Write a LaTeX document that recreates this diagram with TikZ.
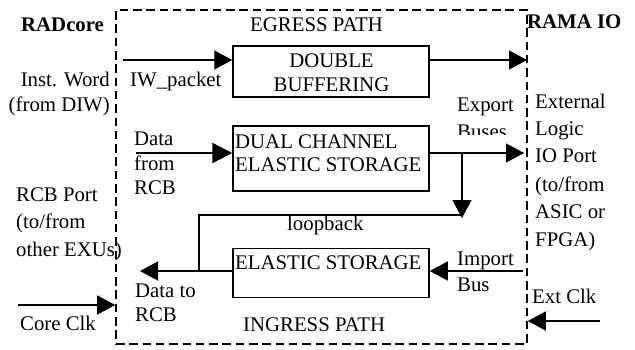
\documentclass[tikz,border=0pt]{standalone}
\usepackage{fontspec}
\setmainfont{Liberation Serif}
\usetikzlibrary{arrows.meta}
\begin{document}
\begin{tikzpicture}[x=1pt,y=-1pt,
  font=\fontsize{20.8}{25}\selectfont,
  txt/.style={inner sep=0pt, anchor=base west},
  txtr/.style={inner sep=0pt, anchor=base east},
  txtc/.style={inner sep=0pt, anchor=base},
  box/.style={draw, line width=1.5pt, inner sep=0pt},
  arr/.style={line width=1.4pt, -{Triangle[length=18pt,width=19pt]}},
  arrthick/.style={line width=2.4pt, -{Triangle[length=20pt,width=20pt]}},
  plain/.style={line width=1.4pt}]
\useasboundingbox (0,0) rectangle (635,349);
% outer dashed region
\node[draw, line width=1.6pt, dash pattern=on 8.5pt off 4.8pt, inner sep=0pt,
      minimum width=411pt, minimum height=334pt] (region) at (321.5,177) {};
% boxes
\node[box, minimum width=196pt, minimum height=51pt] (dbuf) at (331,71.5) {};
\node[box, minimum width=196pt, minimum height=65pt] (dual) at (331,158.5) {};
\node[box, minimum width=196pt, minimum height=49pt] (elastic) at (331,272.8) {};
% box texts
\node[txtc] (t-double) at (331.5,67.7) {DOUBLE};
\node[txtc] (t-buff) at (331.5,91) {BUFFERING};
\node[txt] (t-dual1) at (235,148) {DUAL CHANNEL};
\node[txt] (t-dual2) at (235,171.7) {ELASTIC STORAGE};
\node[txt] (t-elas) at (235,269.3) {ELASTIC STORAGE};
% titles
\node[txt] (t-radcore) at (21,31.7) {\bfseries RADcore};
\node[txt] (t-egress) at (250,31.7) {EGRESS PATH};
\node[txt] (t-rama) at (527,28.3) {\bfseries RAMA IO};
\node[txt] (t-ingress) at (243,331.7) {INGRESS PATH};
% left labels
\node[txtr] (t-inst1) at (110,86.7) {Inst. Word};
\node[txtr] (t-inst2) at (110,111) {(from DIW)};
\node[txt] (t-iw) at (130,86) {IW\_packet};
\node[txt] (t-data1) at (134,145) {Data};
\node[txt] (t-data2) at (134,170) {from};
\node[txt] (t-data3) at (134,194) {RCB};
\node[txt] (t-rcb1) at (16,201.7) {RCB Port};
\node[txt] (t-rcb2) at (16,228.3) {(to/from};
\node[txt] (t-rcb3) at (16,256) {other EXUs)};
\node[txt] (t-dto1) at (135,297.3) {Data to};
\node[txt] (t-dto2) at (135,321.7) {RCB};
\node[txt] (t-core) at (20,330) {Core Clk};
\node[txt] (t-loop) at (287,230) {loopback};
% right labels
\node[txt] (t-export) at (457,111.7) {Export};
\begin{scope}
  \clip (440,112) rectangle (530,134.5);
  \node[txt] (t-buses) at (457,138) {Buses};
\end{scope}
\node[txt] (t-ext1) at (535,108.3) {External};
\node[txt] (t-ext2) at (535,135) {Logic};
\node[txt] (t-ext3) at (535,162.3) {IO Port};
\node[txt] (t-ext4) at (535,191.7) {(to/from};
\node[txt] (t-ext5) at (535,218.3) {ASIC or};
\node[txt] (t-ext6) at (535,246) {FPGA)};
\node[txt] (t-imp1) at (457,265) {Import};
\node[txt] (t-imp2) at (457,291.7) {Bus};
\node[txt] (t-extclk) at (532,303.3) {Ext Clk};
% connectors
\coordinate (iwin) at (123,60);
\draw[arr] (iwin) -- (iwin -| dbuf.west);
\coordinate (egout) at (527,60);
\draw[arr] (dbuf.east |- egout) -- (egout);
\coordinate (din) at (136,153);
\draw[arrthick] (din) -- (din -| dual.west);
\coordinate (exo) at (524,153);
\draw[arr] (dual.east |- exo) -- (exo);
\coordinate (br) at (462,153);
\coordinate (brt) at (462,218);
\draw[arr] (br) -- (brt);
\coordinate (lb1) at (462,215);
\coordinate (lb2) at (199,215);
\coordinate (lb3) at (199,272);
\draw[plain] (lb1) -- (lb2) -- (lb3);
\coordinate (dto) at (140,271);
\draw[arr] (elastic.west |- dto) -- (dto);
\coordinate (imp) at (523,271);
\draw[arr] (imp) -- (imp -| elastic.east);
\coordinate (core) at (18,305);
\draw[arr] (core) -- (core -| region.west);
\coordinate (extc) at (600,321);
\draw[arr] (extc) -- (extc -| region.east);
\end{tikzpicture}
\end{document}
